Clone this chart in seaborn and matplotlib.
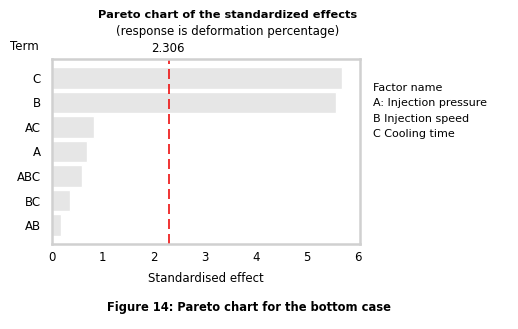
import matplotlib.pyplot as plt
import seaborn as sns
import pandas as pd

# Values
terms = ['C', 'B', 'AC', 'A', 'ABC', 'BC', 'AB']
effects = [5.70, 5.57, 0.82, 0.69, 0.59, 0.35, 0.18]
critical = 2.306
factor_names = ['Factor name', 'A: Injection pressure', 'B Injection speed', 'C Cooling time']

df = pd.DataFrame({'Term': terms, 'Effect': effects})

sns.set_style('white')
plt.rcParams['font.family'] = ['DejaVu Sans']
plt.rcParams['text.color'] = 'black'
plt.rcParams['xtick.color'] = 'black'
plt.rcParams['ytick.color'] = 'black'
plt.rcParams['axes.labelcolor'] = 'black'

fig = plt.figure(figsize=(5.18, 3.29), dpi=100)
ax = fig.add_axes([52 / 518, 1 - 244 / 329, (360 - 52) / 518, (244 - 59) / 329])

sns.barplot(data=df, x='Effect', y='Term', order=terms, color='#e6e6e6',
            saturation=1, width=0.87, ax=ax)
ax.axvline(critical, color='#ee1111', linestyle=(0, (6, 3)), linewidth=1.2)

ax.set_xlim(0, 6.05)
ax.set_ylim(6.77, -0.77)
ax.set_xticks(range(7))
ax.set_xlabel('Standardised effect', fontsize=8.5, labelpad=6)
ax.set_ylabel('')
ax.tick_params(axis='y', length=0, labelsize=8.5, pad=8)
ax.tick_params(axis='x', length=0, labelsize=8.5, pad=5)
for s in ax.spines.values():
    s.set_color('#d0d0d0')
    s.set_linewidth(1.8)

fig.text(228 / 518, 1 - 15 / 329, 'Pareto chart of the standardized effects',
         ha='center', va='center', fontsize=8.2, fontweight='bold')
fig.text(228 / 518, 1 - 32 / 329, '(response is deformation percentage)',
         ha='center', va='center', fontsize=8.5)
fig.text(168 / 518, 1 - 49 / 329, f'{critical:.3f}', ha='center', va='center', fontsize=8.5)
fig.text(10 / 518, 1 - 47 / 329, 'Term', ha='left', va='center', fontsize=8.5)

for i, name in enumerate(factor_names):
    fig.text(373 / 518, 1 - (88 + 15.3 * i) / 329, name, ha='left', va='center', fontsize=8)

fig.text(249 / 518, 1 - 307 / 329, 'Figure 14: Pareto chart for the bottom case',
         ha='center', va='center', fontsize=8.3, fontweight='bold')

fig.savefig('out.png', dpi=100)
